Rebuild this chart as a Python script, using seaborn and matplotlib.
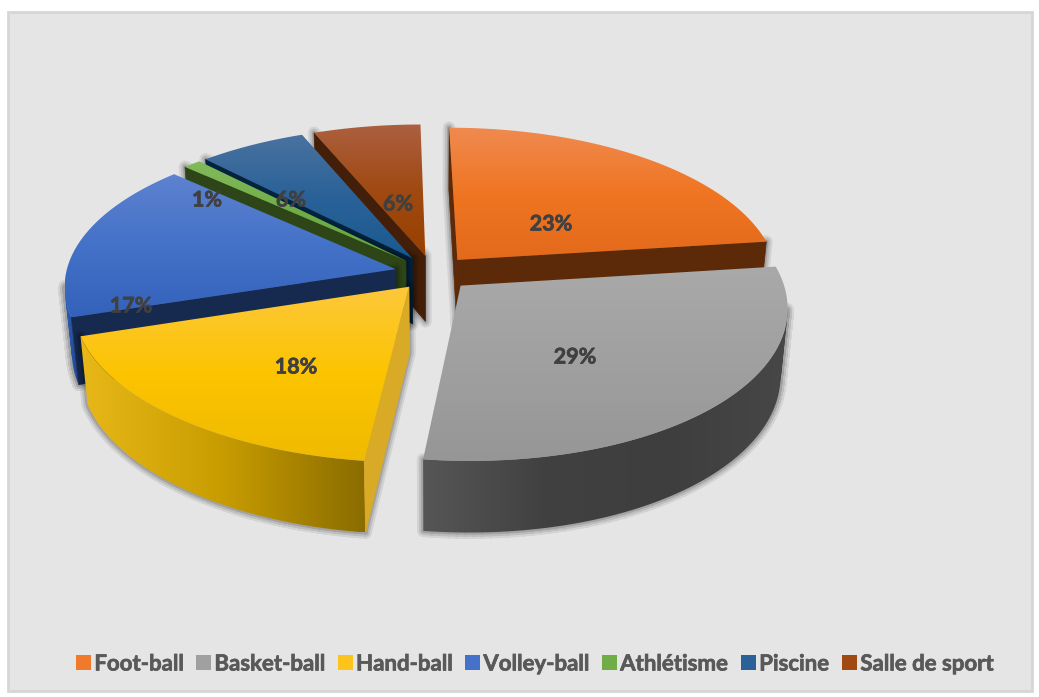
import numpy as np
import seaborn as sns
import matplotlib
matplotlib.use("Agg")
import matplotlib.pyplot as plt
import matplotlib.patheffects as pe
from matplotlib.patches import Patch, PathPatch, Rectangle
from matplotlib.path import Path

sns.set_theme(style="white")
plt.rcParams["font.family"] = ["Lato", "DejaVu Sans"]

# data
sports = ["Foot-ball", "Basket-ball", "Hand-ball", "Volley-ball", "Athlétisme", "Piscine", "Salle de sport"]
shares = [23, 29, 18, 17, 1, 6, 6]

# top face gradient, top to bottom
top_colors = [
    ["#f08a50", "#ef7522", "#e36a1b"],
    ["#a9a9a9", "#a0a0a0", "#969696"],
    ["#fdc83c", "#fcc400", "#efba00"],
    ["#5e82d0", "#4472c8", "#3462bb"],
    ["#82ba5c", "#70ad47", "#65a63c"],
    ["#4a72a0", "#2a6298", "#1a5a90"],
    ["#ac6040", "#a04a12", "#984000"],
]
# outer wall gradient, left to right, and colour of the cut faces
wall_colors = [
    ["#5c2a08", "#5c2a08"],
    ["#565656", "#414141", "#3e3e3e", "#474747"],
    ["#e8b818", "#c89c00", "#8a6c00"],
    ["#2d5fb4", "#1f4690"],
    ["#2e4617", "#2e4617"],
    ["#04233f", "#04233f"],
    ["#431e08", "#431e08"],
]
cut_colors = ["#5c2a08", "#4a4a4a", "#d8aa26", "#16294f", "#2e4617", "#04233f", "#431e08"]
legend_colors = ["#f07a2c", "#a0a0a0", "#fcc41a", "#4472c8", "#70ad47", "#2a6298", "#a04a12"]

# view of the tilted pie, in pixels
cx, cy = 433, 273
rx, a, k = 325, 151, 0.12
depth = 66


def project(xy):
    x, y = xy[:, 0], xy[:, 1]
    w = 1 + k * y
    xw, yw = x / w, y / w
    return np.column_stack([cx + rx * xw - 4 * xw ** 2 - 5.6 * y, cy - a * yw])


def drop(xy):
    # same outline on the underside of the pie
    return np.column_stack([cx + 0.98 * (xy[:, 0] - cx), cy + depth + 1.03 * (xy[:, 1] - cy)])


def face(q):
    return Path(np.vstack([q, q[:1]]), closed=True)


def gradient(ax, clip, colors, z, horizontal=False):
    cmap = sns.blend_palette(colors, as_cmap=True)
    g = np.linspace(0, 1, 256)
    g = g.reshape(1, -1) if horizontal else g.reshape(-1, 1)
    v = clip.vertices
    box = (v[:, 0].min(), v[:, 0].max(), v[:, 1].max(), v[:, 1].min())
    im = ax.imshow(g, cmap=cmap, extent=box, aspect="auto", origin="upper", zorder=z, interpolation="bilinear")
    im.set_clip_path(clip, ax.transData)


fig = plt.figure(figsize=(10.39, 6.97), dpi=100, facecolor="white")
ax = fig.add_axes([0, 0, 1, 1])

wedges, _ = ax.pie(shares, startangle=90, counterclock=False, explode=[0.117] * 7, colors=legend_colors)
for w in wedges:
    w.set_visible(False)

ax.set(xlim=(0, 1039), ylim=(697, 0), aspect="auto", xticks=[], yticks=[])
ax.set_axis_off()
ax.add_patch(Rectangle((8, 12), 1024, 679, facecolor="#e5e5e5", edgecolor="#d6d6d6", lw=2, zorder=0))

z = 1
for i in [6, 5, 4, 0, 3, 2, 1]:
    w = wedges[i]
    t = np.radians(np.linspace(w.theta1, w.theta2, 80))
    c = np.array(w.center)
    rim = c + w.r * np.column_stack([np.cos(t), np.sin(t)])
    top = project(np.vstack([c, rim]))
    low = drop(top)
    mid = top.mean(axis=0)

    # keep only the side faces turned towards the viewer
    n = len(top)
    rim_quads, cut_quads = [], []
    for j in range(n):
        e = (j + 1) % n
        nx, ny = top[e, 1] - top[j, 1], top[j, 0] - top[e, 0]
        if nx * (top[j, 0] - mid[0]) + ny * (top[j, 1] - mid[1]) < 0:
            nx, ny = -nx, -ny
        if ny <= 0:
            continue
        q = np.array([top[j], top[e], low[e], low[j]])
        area = np.sum(q[:, 0] * np.roll(q[:, 1], -1) - np.roll(q[:, 0], -1) * q[:, 1])
        if area < 0:
            q = q[::-1]
        (cut_quads if j in (0, n - 1) else rim_quads).append(q)

    all_quads = rim_quads + cut_quads
    if all_quads:
        shape = Path.make_compound_path(*[face(q) for q in all_quads])
        for lw, alpha in [(9, 0.08), (6, 0.1), (3, 0.14)]:
            ax.add_patch(PathPatch(shape, facecolor="none", edgecolor="black", lw=lw, alpha=alpha,
                                   joinstyle="round", zorder=z))
            z += 1
    if rim_quads:
        gradient(ax, Path.make_compound_path(*[face(q) for q in rim_quads]), wall_colors[i], z, horizontal=True)
        z += 1
    for q in cut_quads:
        ax.add_patch(PathPatch(face(q), facecolor=cut_colors[i], edgecolor=cut_colors[i], lw=0.5, zorder=z))
        z += 1
    gradient(ax, face(top), top_colors[i], z)
    z += 1

heavy = [pe.withStroke(linewidth=0.5, foreground="#404040")]
label_x = [551, 575, 296, 131, 207, 291, 398]
label_y = [224, 357, 367, 306, 200, 200, 204]
for v, x, y in zip(shares, label_x, label_y):
    ax.text(x, y, f"{v}%", ha="center", va="center", fontsize=15.5, fontweight="bold", color="#404040",
            zorder=z, path_effects=heavy)

handles = [Patch(facecolor=col, edgecolor="none", label=s) for col, s in zip(legend_colors, sports)]
leg = ax.legend(handles=handles, ncol=7, loc="center", bbox_to_anchor=(535, 664), bbox_transform=ax.transData,
                frameon=False, labelcolor="#595959", prop={"weight": "bold", "size": 16},
                handlelength=0.68, handleheight=0.68, handletextpad=0.15, columnspacing=0.55, borderpad=0)
for txt in leg.get_texts():
    txt.set_path_effects([pe.withStroke(linewidth=0.5, foreground="#595959")])

fig.savefig("out.png", dpi=100)
